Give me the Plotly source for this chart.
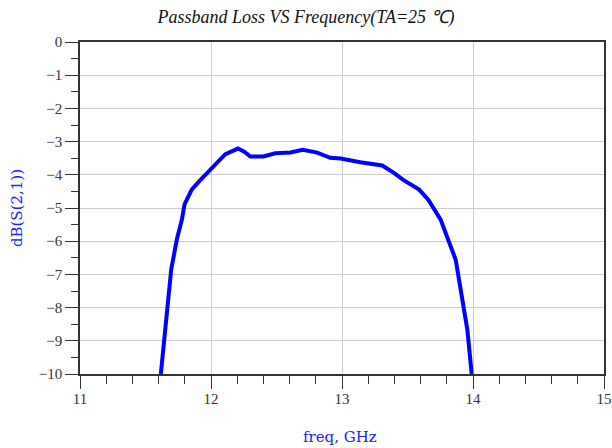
import plotly.graph_objects as go

freq_ghz = [11.617, 11.663, 11.696, 11.739, 11.778, 11.798, 11.854, 11.918, 12.0, 12.07,
            12.11, 12.206, 12.257, 12.30, 12.40, 12.49, 12.606, 12.70, 12.81, 12.91,
            12.99, 13.14, 13.307, 13.396, 13.47, 13.587, 13.66, 13.753, 13.868, 13.957, 13.99]
s21_db = [-10, -8.17, -6.86, -5.95, -5.35, -4.89, -4.44, -4.16, -3.82, -3.51,
          -3.38, -3.21, -3.31, -3.45, -3.45, -3.35, -3.33, -3.25, -3.33, -3.49,
          -3.51, -3.62, -3.72, -3.94, -4.16, -4.44, -4.76, -5.35, -6.56, -8.67, -10]

title_text = "Passband Loss VS Frequency(TA=25 ℃)"
x_title = "freq, GHz"
y_title = "dB(S(2,1))"

fig = go.Figure()
fig.add_trace(go.Scatter(x=freq_ghz, y=s21_db, mode="lines",
                         line=dict(color="#0000FF", width=4), showlegend=False))

axis_font = dict(family="Liberation Serif", size=15, color="#333333")
label_font = dict(family="DejaVu Serif", size=15, color="#2020FF")
fig.update_layout(
    width=612, height=448,
    margin=dict(l=80, r=8, t=42, b=74, autoexpand=False),
    paper_bgcolor="white", plot_bgcolor="white",
    title=dict(text=title_text, x=0.5, xanchor="center", y=0.962, yanchor="middle",
               font=dict(family="Liberation Serif", size=18, color="#111111", style="italic")),
    xaxis=dict(range=[11, 15], dtick=1, tick0=11, showgrid=True, gridcolor="#cccccc", gridwidth=1,
               showline=True, linecolor="#333333", linewidth=1.5, mirror=True,
               ticks="outside", ticklen=13, tickcolor="#333333", tickwidth=1.2,
               minor=dict(dtick=0.2, ticks="outside", ticklen=8, tickcolor="#333333", showgrid=False),
               tickfont=axis_font, zeroline=False, automargin=False, ticklabelstandoff=-3,
               ticklabeloverflow="allow"),
    yaxis=dict(range=[-10, 0], dtick=1, showgrid=True, gridcolor="#cccccc", gridwidth=1,
               showline=True, linecolor="#333333", linewidth=1.5, mirror=True,
               ticks="outside", ticklen=13, tickcolor="#333333", tickwidth=1.2,
               minor=dict(dtick=0.5, ticks="outside", ticklen=7, tickcolor="#333333", showgrid=False),
               tickfont=axis_font, zeroline=False, automargin=False),
    annotations=[
        dict(text=x_title, xref="paper", yref="paper", x=0.496, y=-0.19, xanchor="center",
             yanchor="middle", showarrow=False, font=label_font),
        dict(text=y_title, xref="paper", yref="paper", x=-0.12, y=0.5, xanchor="center",
             yanchor="middle", showarrow=False, textangle=-90, font=label_font),
    ],
)

fig.write_html("out.html", config={"displayModeBar": False},
               post_script="document.body.style.margin='0';document.body.style.overflow='hidden';")
